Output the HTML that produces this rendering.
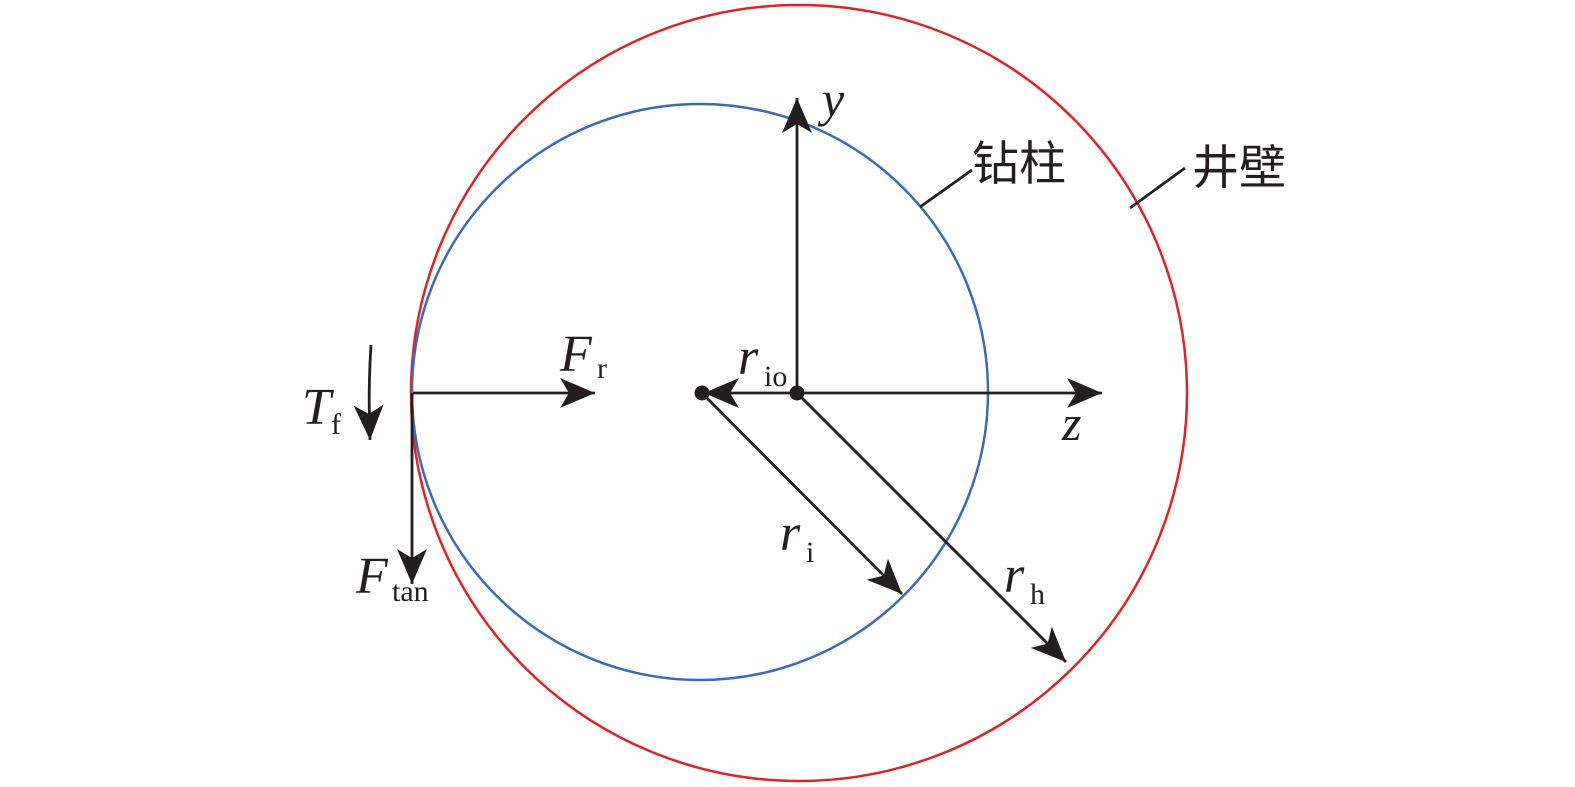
<!DOCTYPE html>
<html><head><meta charset="utf-8"><style>
body{margin:0;background:#fff}
svg{display:block}
text{font-family:"Liberation Serif",serif;fill:#231f20}
.cn{font-family:"Liberation Sans","Noto Sans CJK SC",sans-serif;font-size:47px}
</style></head><body>
<svg width="1575" height="787" viewBox="0 0 1575 787" xmlns="http://www.w3.org/2000/svg">
<defs>
<marker id="a" markerWidth="38" markerHeight="32" refX="35" refY="16" orient="auto" markerUnits="userSpaceOnUse">
<path d="M0,1 L35,16 L0,31 L9,16 Z" fill="#231f20"/>
</marker>
</defs>
<circle cx="799" cy="393" r="388" fill="none" stroke="#e02128" stroke-width="2.5"/>
<circle cx="700" cy="392" r="288" fill="none" stroke="#3b6bb5" stroke-width="2.5"/>
<g stroke="#231f20" stroke-width="2.8" fill="none">
<line x1="797" y1="393" x2="797" y2="98" marker-end="url(#a)"/>
<line x1="797" y1="393" x2="1102" y2="393" marker-end="url(#a)"/>
<line x1="797" y1="393" x2="704" y2="393" marker-end="url(#a)"/>
<line x1="413" y1="393" x2="595" y2="393" marker-end="url(#a)"/>
<line x1="412" y1="393" x2="412" y2="584" marker-end="url(#a)"/>
<path d="M371,345 Q368,390 370,440" marker-end="url(#a)"/>
<line x1="702" y1="393" x2="902" y2="594" marker-end="url(#a)"/>
<line x1="797" y1="393" x2="1066" y2="662" marker-end="url(#a)"/>
<line x1="920" y1="207" x2="972" y2="170"/>
<line x1="1130" y1="208" x2="1185" y2="168"/>
</g>
<circle cx="702" cy="393" r="7.5" fill="#231f20"/>
<circle cx="797" cy="393" r="7.5" fill="#231f20"/>
<text x="822" y="116" font-size="50" font-style="italic">y</text>
<text x="1062" y="440" font-size="50" font-style="italic">z</text>
<text x="560" y="371" font-size="52" font-style="italic">F</text><text x="597" y="378" font-size="30">r</text>
<text x="738" y="374" font-size="52" font-style="italic">r</text><text x="764" y="386" font-size="30">io</text>
<text x="302" y="424" font-size="52" font-style="italic">T</text><text x="331" y="434" font-size="30">f</text>
<text x="356" y="593" font-size="52" font-style="italic">F</text><text x="392" y="601" font-size="30">tan</text>
<text x="780" y="550" font-size="52" font-style="italic">r</text><text x="806" y="562" font-size="30">i</text>
<text x="1004" y="592" font-size="52" font-style="italic">r</text><text x="1030" y="604" font-size="30">h</text>
<text class="cn" x="972" y="180">钻柱</text>
<text class="cn" x="1192" y="184">井壁</text>
</svg>
</body></html>
